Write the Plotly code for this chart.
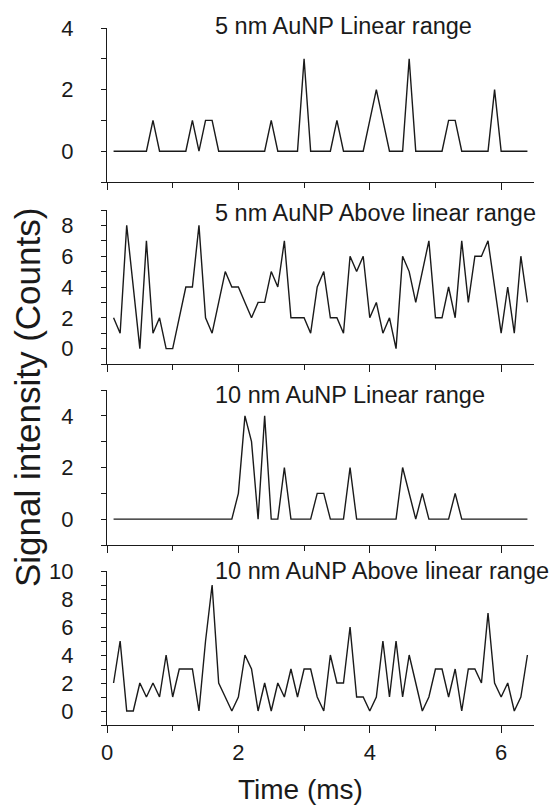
import plotly.graph_objects as go

time_ms = [0.1, 0.2, 0.3, 0.4, 0.5, 0.6, 0.7, 0.8, 0.9, 1.0,
           1.1, 1.2, 1.3, 1.4, 1.5, 1.6, 1.7, 1.8, 1.9, 2.0,
           2.1, 2.2, 2.3, 2.4, 2.5, 2.6, 2.7, 2.8, 2.9, 3.0,
           3.1, 3.2, 3.3, 3.4, 3.5, 3.6, 3.7, 3.8, 3.9, 4.0,
           4.1, 4.2, 4.3, 4.4, 4.5, 4.6, 4.7, 4.8, 4.9, 5.0,
           5.1, 5.2, 5.3, 5.4, 5.5, 5.6, 5.7, 5.8, 5.9, 6.0,
           6.1, 6.2, 6.3, 6.4]

au5_linear = [0, 0, 0, 0, 0, 0, 1, 0, 0, 0,
              0, 0, 1, 0, 1, 1, 0, 0, 0, 0,
              0, 0, 0, 0, 1, 0, 0, 0, 0, 3,
              0, 0, 0, 0, 1, 0, 0, 0, 0, 1,
              2, 1, 0, 0, 0, 3, 0, 0, 0, 0,
              0, 1, 1, 0, 0, 0, 0, 0, 2, 0,
              0, 0, 0, 0]

au5_above = [2, 1, 8, 4, 0, 7, 1, 2, 0, 0,
             2, 4, 4, 8, 2, 1, 3, 5, 4, 4,
             3, 2, 3, 3, 5, 4, 7, 2, 2, 2,
             1, 4, 5, 2, 2, 1, 6, 5, 6, 2,
             3, 1, 2, 0, 6, 5, 3, 5, 7, 2,
             2, 4, 2, 7, 3, 6, 6, 7, 4, 1,
             4, 1, 6, 3]

au10_linear = [0, 0, 0, 0, 0, 0, 0, 0, 0, 0,
               0, 0, 0, 0, 0, 0, 0, 0, 0, 1,
               4, 3, 0, 4, 0, 0, 2, 0, 0, 0,
               0, 1, 1, 0, 0, 0, 2, 0, 0, 0,
               0, 0, 0, 0, 2, 1, 0, 1, 0, 0,
               0, 0, 1, 0, 0, 0, 0, 0, 0, 0,
               0, 0, 0, 0]

au10_above = [2, 5, 0, 0, 2, 1, 2, 1, 4, 1,
              3, 3, 3, 0, 5, 9, 2, 1, 0, 1,
              4, 3, 0, 2, 0, 2, 1, 3, 1, 3,
              3, 1, 0, 4, 2, 2, 6, 1, 1, 0,
              1, 5, 1, 5, 1, 4, 2, 0, 1, 3,
              3, 1, 3, 0, 3, 3, 2, 7, 2, 1,
              2, 0, 1, 4]

panel_titles = ["5 nm AuNP Linear range", "5 nm AuNP Above linear range",
                "10 nm AuNP Linear range", "10 nm AuNP Above linear range"]
series = [au5_linear, au5_above, au10_linear, au10_above]
y_ranges = [[-1, 4], [-1, 9], [-1, 5], [-1, 10]]
y_ticks = [[0, 2, 4], [0, 2, 4, 6, 8], [0, 2, 4], [0, 2, 4, 6, 8, 10]]
x_ticks = [0, 2, 4, 6]

W, H = 556, 807
ML, MR, MT, MB = 107, 22, 28, 82
PH = H - MT - MB

def py(ypix):
    return (H - MB - ypix) / PH

# panel pixel extents (top, bottom)
panel_px = [(28, 182), (210, 364), (390, 545), (571, 725)]

FONT = "Liberation Sans, Arial, sans-serif"
INK = "#1a1a1a"

fig = go.Figure()
layout = dict(width=W, height=H, margin=dict(l=ML, r=MR, t=MT, b=MB),
              paper_bgcolor="white", plot_bgcolor="white", showlegend=False,
              font=dict(family=FONT, color=INK))
annotations = []
for i, (vals, title, yr, yt, (top, bot)) in enumerate(zip(series, panel_titles, y_ranges, y_ticks, panel_px)):
    n = i + 1
    xa = "x" if n == 1 else f"x{n}"
    ya = "y" if n == 1 else f"y{n}"
    fig.add_trace(go.Scatter(x=time_ms, y=vals, mode="lines", xaxis=xa, yaxis=ya,
                             line=dict(color=INK, width=1.4), hoverinfo="skip"))
    xkey = "xaxis" if n == 1 else f"xaxis{n}"
    ykey = "yaxis" if n == 1 else f"yaxis{n}"
    layout[xkey] = dict(domain=[0, 1], range=[0, 6.5], anchor=ya,
                        showline=True, linecolor=INK, linewidth=1.4,
                        ticks="outside", ticklen=7, tickwidth=1.4, tickcolor=INK,
                        tickvals=x_ticks, showticklabels=(n == 4),
                        tickfont=dict(size=22, family=FONT, color=INK),
                        minor=dict(tickvals=[1, 3, 5], ticks="outside", ticklen=5,
                                   tickwidth=1.4, tickcolor=INK),
                        showgrid=False, zeroline=False, fixedrange=True)
    minor_vals = [v for v in range(yr[0], yr[1] + 1) if v not in yt]
    layout[ykey] = dict(domain=[py(bot), py(top)], range=yr, anchor=xa,
                        showline=True, linecolor=INK, linewidth=1.4,
                        ticks="outside", ticklen=5, tickwidth=1.4, tickcolor=INK,
                        tickvals=yt, ticklabelstandoff=23,
                        tickfont=dict(size=22, family=FONT, color=INK),
                        minor=dict(tickvals=minor_vals, ticks="outside", ticklen=5,
                                   tickwidth=1.4, tickcolor=INK),
                        showgrid=False, zeroline=False, fixedrange=True)

title_y_px = [26, 213, 395, 571]
for title, ty in zip(panel_titles, title_y_px):
    annotations.append(dict(text=title, xref="paper", yref="paper",
                            x=(213 - ML) / (W - ML - MR), y=py(ty),
                            xanchor="left", yanchor="middle", showarrow=False,
                            font=dict(size=23.5, family=FONT, color=INK)))

annotations.append(dict(text="Signal intensity (Counts)", xref="paper", yref="paper",
                        x=(28 - ML) / (W - ML - MR), y=py(398), textangle=-90,
                        xanchor="center", yanchor="middle", showarrow=False,
                        font=dict(size=35, family=FONT, color=INK)))
annotations.append(dict(text="Time (ms)", xref="paper", yref="paper",
                        x=(300 - ML) / (W - ML - MR), y=py(789),
                        xanchor="center", yanchor="middle", showarrow=False,
                        font=dict(size=28, family=FONT, color=INK)))
layout["annotations"] = annotations
fig.update_layout(**layout)
fig.write_html("out.html", config={"displayModeBar": False},
               post_script="document.body.style.margin='0';")
